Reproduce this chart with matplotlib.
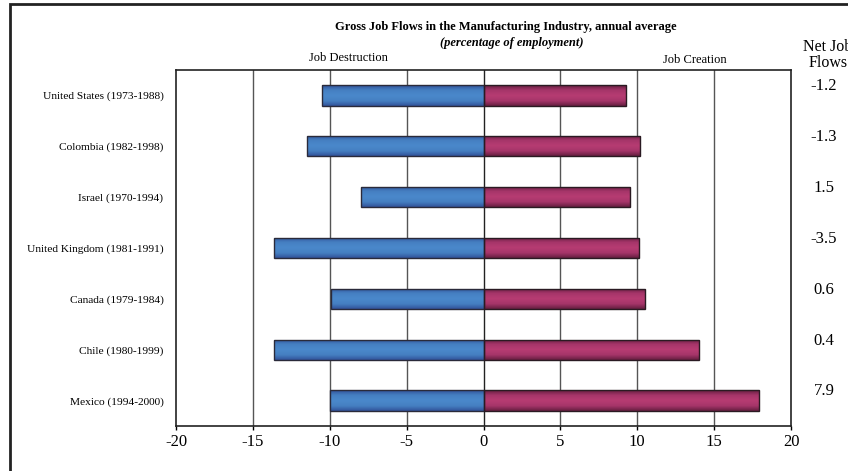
import numpy as np
import matplotlib
matplotlib.use("Agg")
import matplotlib.pyplot as plt
from matplotlib.colors import LinearSegmentedColormap
from matplotlib.patches import Rectangle

countries = [
    "United States (1973-1988)",
    "Colombia (1982-1998)",
    "Israel (1970-1994)",
    "United Kingdom (1981-1991)",
    "Canada (1979-1984)",
    "Chile (1980-1999)",
    "Mexico (1994-2000)",
]
destruction = [-10.5, -11.5, -8.0, -13.6, -9.9, -13.6, -10.0]
creation = [9.3, 10.2, 9.5, 10.1, 10.5, 14.0, 17.9]
net_flows = [-1.2, -1.3, 1.5, -3.5, 0.6, 0.4, 7.9]
xticks = [-20, -15, -10, -5, 0, 5, 10, 15, 20]

plt.rcParams["font.family"] = ["Liberation Serif", "DejaVu Serif"]
plt.rcParams["axes.unicode_minus"] = False

W, H = 848, 471
fig = plt.figure(figsize=(W / 100, H / 100), dpi=100)
ax = fig.add_axes([176 / W, 1 - 426 / H, 615 / W, 356 / H])

blue = LinearSegmentedColormap.from_list("blue", ["#4a88cb", "#4580c2", "#32529a"])
plum = LinearSegmentedColormap.from_list("plum", ["#b63c72", "#a6356a", "#661e40"])

ypos = np.arange(len(countries))
bar_h = 0.4


def shade(bars, cmap):
    # vertical gradient, light in the middle and dark at the edges
    grad = np.abs(np.linspace(-1, 1, 64)).reshape(-1, 1)
    for bar in bars:
        x, y = bar.get_x(), bar.get_y()
        w, h = bar.get_width(), bar.get_height()
        im = ax.imshow(grad, cmap=cmap, aspect="auto", interpolation="bilinear",
                       extent=(x, x + w, y + h, y), zorder=2)
        im.set_clip_path(bar)


neg = ax.barh(ypos, destruction, height=bar_h, fill=False,
              edgecolor="#2a2a3a", linewidth=1.0, zorder=3)
pos = ax.barh(ypos, creation, height=bar_h, fill=False,
              edgecolor="#2a1a22", linewidth=1.0, zorder=3)
shade(neg, blue)
shade(pos, plum)

for x in xticks[1:-1]:
    ax.axvline(x, color="#555555" if x else "#222222", linewidth=1.0, zorder=1)

ax.set_xlim(-20, 20)
ax.set_ylim(len(countries) - 0.5, -0.5)
ax.set_xticks(xticks)
ax.set_xticklabels([str(t) for t in xticks], fontsize=12)
ax.set_yticks(ypos)
ax.set_yticklabels(countries, fontsize=8.2)
ax.tick_params(axis="y", length=0, pad=9)
ax.tick_params(axis="x", length=3, width=1, direction="out", pad=3)
for s in ax.spines.values():
    s.set_linewidth(1.2)
    s.set_color("#222222")

# net job flows column on the right
net_x = (824 - 176) / 615
for y, v in zip(ypos, net_flows):
    ax.text(net_x, y - 0.18, f"{v:.1f}", transform=ax.get_yaxis_transform(),
            fontsize=12, ha="center", va="center", clip_on=False)
fig.text(828 / W, 1 - 55 / H, "Net Job\nFlows", fontsize=11.5, ha="center",
         va="center", linespacing=0.95)

fig.text(506 / W, 1 - 27 / H,
         "Gross Job Flows in the Manufacturing Industry, annual average",
         fontsize=9, fontweight="bold", ha="center", va="center")
fig.text(512 / W, 1 - 43 / H, "(percentage of employment)", fontsize=9,
         fontweight="bold", fontstyle="italic", ha="center", va="center")
fig.text(348 / W, 1 - 58 / H, "Job Destruction", fontsize=9, ha="center", va="center")
fig.text(695 / W, 1 - 60 / H, "Job Creation", fontsize=9, ha="center", va="center")

# outer frame around the chart
fig.patches.append(Rectangle((10 / W, -0.1), 1.2, 1.1 - 4 / H, transform=fig.transFigure,
                             fill=False, edgecolor="#222222", linewidth=2.0))

fig.savefig("out.png", dpi=100)
